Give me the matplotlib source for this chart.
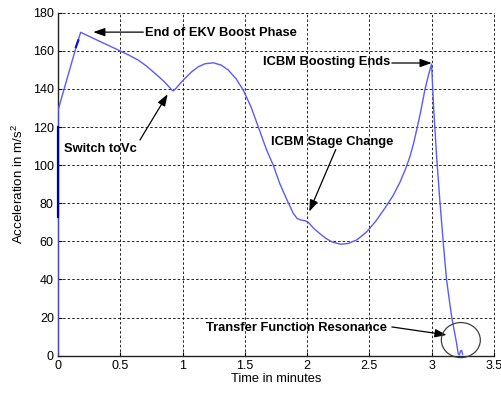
import matplotlib
matplotlib.use("Agg")
import matplotlib.pyplot as plt
from matplotlib.patches import Ellipse

plt.rcParams['font.family'] = ['Liberation Sans', 'DejaVu Sans']
plt.rcParams['mathtext.default'] = 'regular'

# Acceleration profile (minutes, m/s^2)
time_min = [0.0, 0.0, 0.008, 0.15, 0.182, 0.25, 0.324, 0.40, 0.484, 0.56,
            0.645, 0.71, 0.778, 0.85, 0.90, 0.918, 0.926, 0.95, 0.98, 1.019,
            1.07, 1.126, 1.18, 1.247, 1.31, 1.367, 1.43, 1.487, 1.55, 1.608,
            1.675, 1.728, 1.78, 1.84, 1.889, 1.92, 1.95, 1.985, 2.01, 2.05,
            2.10, 2.15, 2.20, 2.27, 2.33, 2.40, 2.478, 2.55, 2.62, 2.69,
            2.745, 2.79, 2.825, 2.855, 2.879, 2.91, 2.945, 2.975, 2.999,
            3.015, 3.04, 3.066, 3.092, 3.119, 3.16, 3.20, 3.213, 3.222,
            3.232, 3.24, 3.248]
accel = [0.0, 128.0, 130.5, 163.0, 169.7, 167.6, 165.3, 163.0, 160.4, 158.0,
         155.1, 152.0, 148.2, 144.0, 140.5, 139.2, 139.0, 140.5, 142.8, 145.5,
         148.8, 151.6, 153.2, 153.7, 152.5, 149.9, 145.3, 139.4, 130.5, 120.1,
         107.9, 100.0, 90.4, 81.5, 74.7, 72.0, 71.2, 70.8, 70.0, 67.0,
         64.2, 61.6, 59.7, 58.5, 58.9, 60.8, 65.0, 70.5, 77.0, 84.0,
         91.0, 98.0, 104.4, 111.5, 118.4, 127.5, 139.4, 147.5, 153.0,
         131.0, 104.0, 81.0, 60.0, 40.0, 20.5, 6.5, 1.0, 0.5,
         2.5, 2.8, 0.8]

# Densely sampled stretches that render darker
dense_t1 = [0.0, 0.0]
dense_a1 = [73.0, 120.0]
dense_t2 = [0.144, 0.163]
dense_a2 = [162.0, 165.5]

xticks = [0, 0.5, 1, 1.5, 2, 2.5, 3, 3.5]
xticklabels = ['0', '0.5', '1', '1.5', '2', '2.5', '3', '3.5']
yticks = [0, 20, 40, 60, 80, 100, 120, 140, 160, 180]

fig = plt.figure(figsize=(5.02, 3.94), dpi=100)
ax = fig.add_axes([0.1155, 0.0972, 0.8685, 0.8706])

line_color = '#5a5aff'
ax.plot(time_min, accel, color=line_color, lw=1.0, zorder=3)
ax.plot(dense_t1, dense_a1, color='#0000a0', lw=1.6, zorder=4, clip_on=False)
ax.plot(dense_t2, dense_a2, color='#1010e0', lw=1.6, zorder=4)

ax.set_xlim(0, 3.5)
ax.set_ylim(0, 180)
ax.set_xticks(xticks)
ax.set_xticklabels(xticklabels)
ax.set_yticks(yticks)
ax.tick_params(direction='in', length=3, labelsize=9, colors='black', pad=3)

ax.grid(True, color='black', linestyle=(0, (3, 2.5)), linewidth=0.6)
for side in ('top', 'right'):
    ax.spines[side].set_visible(False)
for side in ('left', 'bottom'):
    ax.spines[side].set_linewidth(1.0)
    ax.spines[side].set_color('#222222')
for gl in ax.get_xgridlines() + ax.get_ygridlines():
    gl.set_clip_on(False)

ax.set_xlabel('Time in minutes', fontsize=9.3, labelpad=1)
ax.set_ylabel('Acceleration in m/s$^2$', fontsize=9.6, labelpad=5)

text_kw = dict(fontsize=9.3, fontweight='bold', ha='left', va='center', zorder=5)
arrow_kw = dict(arrowstyle='-|>,head_length=0.7,head_width=0.25',
                color='black', lw=0.9, shrinkA=0, shrinkB=0)

ax.text(0.698, 169.3, 'End of EKV Boost Phase', **text_kw)
ax.annotate('', xy=(0.283, 169.8), xytext=(0.685, 169.8), arrowprops=arrow_kw)

ax.text(0.048, 108.4, 'Switch toVc', **text_kw)
ax.annotate('', xy=(0.88, 137.2), xytext=(0.658, 113.2), arrowprops=arrow_kw)

ax.text(1.648, 153.9, 'ICBM Boosting Ends', **text_kw)
ax.annotate('', xy=(3.0, 153.6), xytext=(2.68, 153.6), arrowprops=arrow_kw)

ax.text(1.707, 112.3, 'ICBM Stage Change', **text_kw)
ax.annotate('', xy=(2.017, 75.6), xytext=(2.23, 108.2), arrowprops=arrow_kw)

ax.text(1.188, 14.4, 'Transfer Function Resonance', **text_kw)
ax.annotate('', xy=(3.12, 10.9), xytext=(2.68, 15.1), arrowprops=arrow_kw)

ax.add_patch(Ellipse((3.234, 8.2), 0.313, 18.4, fill=False,
                     edgecolor='#404040', lw=0.9, clip_on=False, zorder=4))

fig.savefig('out.png', dpi=100)
